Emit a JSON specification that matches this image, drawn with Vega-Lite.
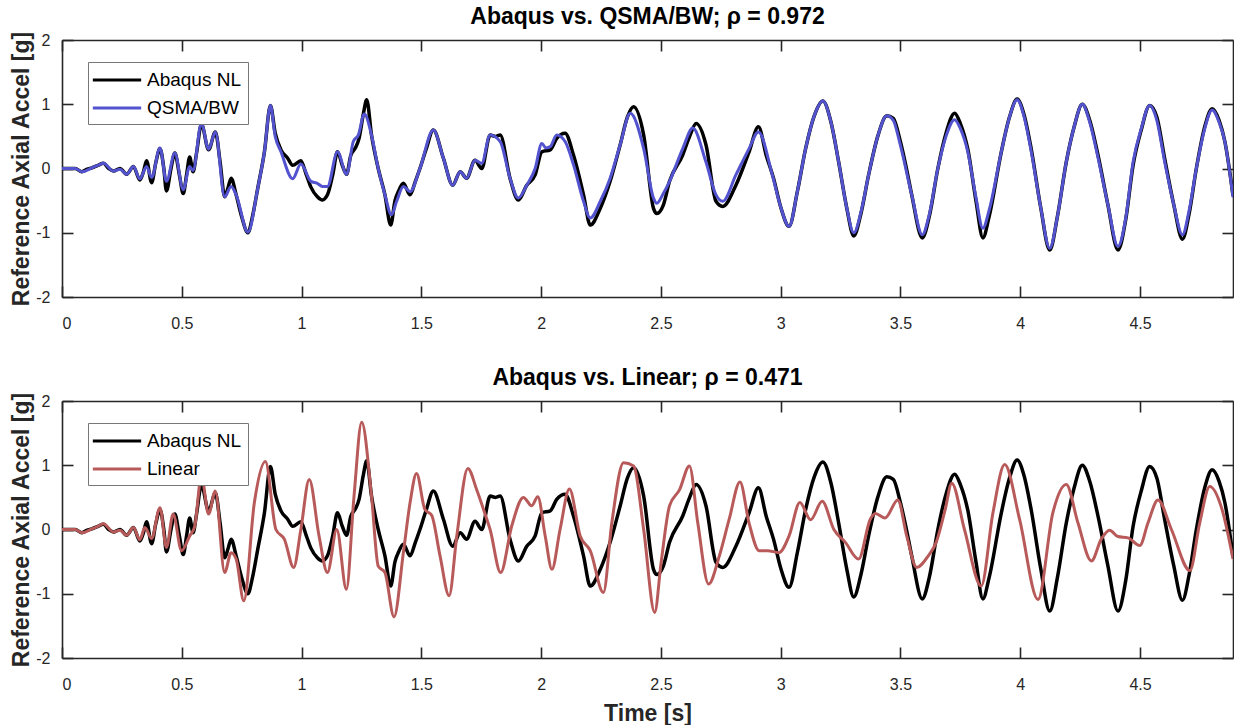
{
"$schema": "https://vega.github.io/schema/vega-lite/v6.json",
"padding": {"left": 10, "top": 6, "right": 0, "bottom": 0},
"spacing": 36,
"datasets": {
"abaqus": [{"t":0,"v":0},{"t":0.03,"v":0},{"t":0.055,"v":0},{"t":0.083,"v":-0.05},{"t":0.105,"v":-0.01},{"t":0.125,"v":0.01},{"t":0.15,"v":0.05},{"t":0.173,"v":0.08},{"t":0.195,"v":0.0},{"t":0.215,"v":-0.04},{"t":0.242,"v":0.0},{"t":0.27,"v":-0.09},{"t":0.298,"v":0.03},{"t":0.325,"v":-0.18},{"t":0.34,"v":-0.05},{"t":0.353,"v":0.12},{"t":0.374,"v":-0.22},{"t":0.392,"v":0.1},{"t":0.409,"v":0.31},{"t":0.425,"v":0.0},{"t":0.436,"v":-0.35},{"t":0.455,"v":0.0},{"t":0.471,"v":0.24},{"t":0.49,"v":-0.1},{"t":0.506,"v":-0.39},{"t":0.52,"v":-0.1},{"t":0.533,"v":0.18},{"t":0.547,"v":-0.05},{"t":0.562,"v":0.25},{"t":0.582,"v":0.69},{"t":0.612,"v":0.29},{"t":0.64,"v":0.57},{"t":0.66,"v":0.1},{"t":0.679,"v":-0.44},{"t":0.693,"v":-0.3},{"t":0.706,"v":-0.15},{"t":0.727,"v":-0.41},{"t":0.75,"v":-0.75},{"t":0.776,"v":-1.0},{"t":0.795,"v":-0.75},{"t":0.817,"v":-0.31},{"t":0.845,"v":0.26},{"t":0.87,"v":0.98},{"t":0.89,"v":0.55},{"t":0.914,"v":0.29},{"t":0.942,"v":0.16},{"t":0.963,"v":0.05},{"t":0.997,"v":0.12},{"t":1.02,"v":-0.1},{"t":1.039,"v":-0.29},{"t":1.066,"v":-0.44},{"t":1.087,"v":-0.49},{"t":1.108,"v":-0.41},{"t":1.13,"v":-0.1},{"t":1.15,"v":0.26},{"t":1.17,"v":0.05},{"t":1.188,"v":-0.09},{"t":1.205,"v":0.2},{"t":1.226,"v":0.33},{"t":1.24,"v":0.47},{"t":1.258,"v":0.85},{"t":1.272,"v":1.07},{"t":1.292,"v":0.52},{"t":1.32,"v":0.0},{"t":1.348,"v":-0.41},{"t":1.372,"v":-0.88},{"t":1.39,"v":-0.5},{"t":1.405,"v":-0.35},{"t":1.425,"v":-0.23},{"t":1.453,"v":-0.41},{"t":1.475,"v":-0.2},{"t":1.494,"v":0.0},{"t":1.52,"v":0.3},{"t":1.55,"v":0.6},{"t":1.592,"v":0.16},{"t":1.631,"v":-0.26},{"t":1.662,"v":-0.05},{"t":1.689,"v":-0.15},{"t":1.724,"v":0.13},{"t":1.752,"v":0.0},{"t":1.787,"v":0.52},{"t":1.81,"v":0.5},{"t":1.829,"v":0.52},{"t":1.87,"v":-0.15},{"t":1.905,"v":-0.49},{"t":1.94,"v":-0.26},{"t":1.975,"v":-0.1},{"t":2.003,"v":0.26},{"t":2.038,"v":0.29},{"t":2.065,"v":0.47},{"t":2.1,"v":0.55},{"t":2.135,"v":0.21},{"t":2.177,"v":-0.41},{"t":2.205,"v":-0.88},{"t":2.247,"v":-0.62},{"t":2.288,"v":-0.2},{"t":2.33,"v":0.37},{"t":2.36,"v":0.8},{"t":2.386,"v":0.96},{"t":2.428,"v":0.52},{"t":2.469,"v":-0.62},{"t":2.483,"v":-0.7},{"t":2.51,"v":-0.57},{"t":2.536,"v":-0.2},{"t":2.591,"v":0.21},{"t":2.62,"v":0.5},{"t":2.647,"v":0.7},{"t":2.688,"v":0.37},{"t":2.73,"v":-0.51},{"t":2.758,"v":-0.59},{"t":2.813,"v":-0.26},{"t":2.868,"v":0.26},{"t":2.907,"v":0.65},{"t":2.94,"v":0.2},{"t":2.97,"v":-0.15},{"t":3.0,"v":-0.6},{"t":3.035,"v":-0.9},{"t":3.07,"v":-0.35},{"t":3.104,"v":0.31},{"t":3.14,"v":0.82},{"t":3.176,"v":1.05},{"t":3.21,"v":0.72},{"t":3.242,"v":0.1},{"t":3.275,"v":-0.6},{"t":3.305,"v":-1.05},{"t":3.335,"v":-0.7},{"t":3.367,"v":-0.1},{"t":3.405,"v":0.5},{"t":3.443,"v":0.82},{"t":3.47,"v":0.78},{"t":3.499,"v":0.43},{"t":3.525,"v":0.0},{"t":3.547,"v":-0.41},{"t":3.591,"v":-1.08},{"t":3.62,"v":-0.75},{"t":3.656,"v":0.0},{"t":3.69,"v":0.55},{"t":3.726,"v":0.86},{"t":3.75,"v":0.7},{"t":3.781,"v":0.3},{"t":3.815,"v":-0.5},{"t":3.844,"v":-1.08},{"t":3.87,"v":-0.75},{"t":3.921,"v":0.26},{"t":3.955,"v":0.8},{"t":3.987,"v":1.08},{"t":4.015,"v":0.85},{"t":4.046,"v":0.3},{"t":4.085,"v":-0.6},{"t":4.123,"v":-1.27},{"t":4.155,"v":-0.75},{"t":4.192,"v":0.1},{"t":4.225,"v":0.65},{"t":4.259,"v":1.0},{"t":4.29,"v":0.75},{"t":4.325,"v":0.2},{"t":4.365,"v":-0.55},{"t":4.408,"v":-1.27},{"t":4.44,"v":-0.8},{"t":4.471,"v":0.05},{"t":4.505,"v":0.6},{"t":4.54,"v":0.98},{"t":4.57,"v":0.8},{"t":4.603,"v":0.15},{"t":4.64,"v":-0.55},{"t":4.677,"v":-1.1},{"t":4.705,"v":-0.7},{"t":4.735,"v":0.0},{"t":4.77,"v":0.65},{"t":4.801,"v":0.93},{"t":4.83,"v":0.75},{"t":4.854,"v":0.42},{"t":4.888,"v":-0.42}],
"qsma": [{"t":0,"v":0},{"t":0.03,"v":0},{"t":0.055,"v":0},{"t":0.083,"v":-0.05},{"t":0.125,"v":0.01},{"t":0.15,"v":0.05},{"t":0.173,"v":0.08},{"t":0.215,"v":-0.04},{"t":0.242,"v":-0.01},{"t":0.27,"v":-0.09},{"t":0.298,"v":0.03},{"t":0.325,"v":-0.16},{"t":0.353,"v":0.03},{"t":0.374,"v":-0.14},{"t":0.409,"v":0.32},{"t":0.436,"v":-0.2},{"t":0.471,"v":0.24},{"t":0.506,"v":-0.33},{"t":0.533,"v":0.03},{"t":0.547,"v":-0.03},{"t":0.582,"v":0.7},{"t":0.612,"v":0.3},{"t":0.64,"v":0.57},{"t":0.679,"v":-0.44},{"t":0.706,"v":-0.28},{"t":0.727,"v":-0.41},{"t":0.776,"v":-0.99},{"t":0.817,"v":-0.31},{"t":0.845,"v":0.26},{"t":0.87,"v":0.98},{"t":0.89,"v":0.5},{"t":0.914,"v":0.26},{"t":0.963,"v":-0.16},{"t":0.997,"v":0.07},{"t":1.039,"v":-0.2},{"t":1.066,"v":-0.23},{"t":1.087,"v":-0.28},{"t":1.108,"v":-0.28},{"t":1.15,"v":0.26},{"t":1.188,"v":-0.09},{"t":1.216,"v":0.42},{"t":1.237,"v":0.52},{"t":1.262,"v":0.85},{"t":1.292,"v":0.52},{"t":1.32,"v":0.0},{"t":1.348,"v":-0.41},{"t":1.375,"v":-0.72},{"t":1.397,"v":-0.51},{"t":1.425,"v":-0.28},{"t":1.453,"v":-0.36},{"t":1.494,"v":0.0},{"t":1.55,"v":0.6},{"t":1.592,"v":0.16},{"t":1.631,"v":-0.26},{"t":1.662,"v":-0.05},{"t":1.689,"v":-0.15},{"t":1.724,"v":0.13},{"t":1.752,"v":0.08},{"t":1.787,"v":0.52},{"t":1.829,"v":0.42},{"t":1.87,"v":-0.15},{"t":1.905,"v":-0.46},{"t":1.94,"v":-0.26},{"t":1.975,"v":0.0},{"t":2.003,"v":0.39},{"t":2.02,"v":0.32},{"t":2.038,"v":0.34},{"t":2.065,"v":0.52},{"t":2.1,"v":0.42},{"t":2.135,"v":0.06},{"t":2.177,"v":-0.51},{"t":2.205,"v":-0.77},{"t":2.247,"v":-0.51},{"t":2.288,"v":-0.15},{"t":2.33,"v":0.37},{"t":2.372,"v":0.86},{"t":2.428,"v":0.31},{"t":2.469,"v":-0.46},{"t":2.483,"v":-0.54},{"t":2.51,"v":-0.39},{"t":2.536,"v":-0.2},{"t":2.591,"v":0.31},{"t":2.633,"v":0.63},{"t":2.688,"v":0.1},{"t":2.73,"v":-0.41},{"t":2.758,"v":-0.51},{"t":2.813,"v":-0.1},{"t":2.868,"v":0.31},{"t":2.907,"v":0.57},{"t":2.965,"v":-0.1},{"t":3.0,"v":-0.6},{"t":3.035,"v":-0.9},{"t":3.07,"v":-0.35},{"t":3.104,"v":0.31},{"t":3.14,"v":0.82},{"t":3.176,"v":1.05},{"t":3.21,"v":0.72},{"t":3.242,"v":0.1},{"t":3.275,"v":-0.6},{"t":3.305,"v":-1.0},{"t":3.335,"v":-0.68},{"t":3.367,"v":-0.1},{"t":3.405,"v":0.5},{"t":3.443,"v":0.82},{"t":3.47,"v":0.75},{"t":3.499,"v":0.37},{"t":3.547,"v":-0.41},{"t":3.591,"v":-1.03},{"t":3.62,"v":-0.72},{"t":3.656,"v":0.0},{"t":3.69,"v":0.5},{"t":3.726,"v":0.76},{"t":3.75,"v":0.62},{"t":3.781,"v":0.26},{"t":3.815,"v":-0.45},{"t":3.844,"v":-0.93},{"t":3.87,"v":-0.65},{"t":3.921,"v":0.26},{"t":3.955,"v":0.8},{"t":3.987,"v":1.07},{"t":4.015,"v":0.82},{"t":4.046,"v":0.26},{"t":4.085,"v":-0.6},{"t":4.123,"v":-1.24},{"t":4.155,"v":-0.75},{"t":4.192,"v":0.1},{"t":4.225,"v":0.65},{"t":4.259,"v":1.0},{"t":4.29,"v":0.72},{"t":4.325,"v":0.16},{"t":4.365,"v":-0.55},{"t":4.408,"v":-1.21},{"t":4.44,"v":-0.78},{"t":4.471,"v":0.1},{"t":4.505,"v":0.62},{"t":4.54,"v":0.98},{"t":4.57,"v":0.75},{"t":4.603,"v":0.1},{"t":4.64,"v":-0.55},{"t":4.677,"v":-1.03},{"t":4.705,"v":-0.65},{"t":4.735,"v":0.0},{"t":4.77,"v":0.62},{"t":4.801,"v":0.91},{"t":4.83,"v":0.72},{"t":4.854,"v":0.42},{"t":4.888,"v":-0.45}],
"linear": [{"t":0,"v":0},{"t":0.03,"v":0},{"t":0.055,"v":0},{"t":0.083,"v":-0.05},{"t":0.125,"v":0.01},{"t":0.15,"v":0.05},{"t":0.173,"v":0.09},{"t":0.215,"v":-0.04},{"t":0.242,"v":-0.01},{"t":0.27,"v":-0.09},{"t":0.298,"v":0.03},{"t":0.325,"v":-0.16},{"t":0.346,"v":0.03},{"t":0.374,"v":-0.14},{"t":0.409,"v":0.34},{"t":0.436,"v":-0.28},{"t":0.464,"v":0.24},{"t":0.499,"v":-0.33},{"t":0.533,"v":-0.1},{"t":0.554,"v":0.05},{"t":0.582,"v":0.83},{"t":0.612,"v":0.24},{"t":0.64,"v":0.6},{"t":0.679,"v":-0.67},{"t":0.706,"v":-0.36},{"t":0.727,"v":-0.46},{"t":0.759,"v":-1.11},{"t":0.803,"v":0.42},{"t":0.849,"v":1.06},{"t":0.893,"v":0.0},{"t":0.928,"v":-0.15},{"t":0.967,"v":-0.59},{"t":0.997,"v":0.0},{"t":1.032,"v":0.78},{"t":1.073,"v":-0.1},{"t":1.108,"v":-0.67},{"t":1.147,"v":0.0},{"t":1.187,"v":-0.93},{"t":1.219,"v":0.52},{"t":1.251,"v":1.67},{"t":1.292,"v":0.52},{"t":1.32,"v":-0.57},{"t":1.348,"v":-0.67},{"t":1.386,"v":-1.36},{"t":1.425,"v":-0.36},{"t":1.453,"v":0.42},{"t":1.48,"v":0.87},{"t":1.515,"v":0.31},{"t":1.543,"v":0.22},{"t":1.578,"v":-0.41},{"t":1.616,"v":-1.03},{"t":1.648,"v":-0.1},{"t":1.694,"v":0.95},{"t":1.731,"v":0.62},{"t":1.766,"v":0.24},{"t":1.787,"v":0.0},{"t":1.831,"v":-0.67},{"t":1.877,"v":0.05},{"t":1.926,"v":0.5},{"t":1.961,"v":0.37},{"t":1.986,"v":0.51},{"t":2.017,"v":-0.1},{"t":2.045,"v":-0.62},{"t":2.079,"v":0.0},{"t":2.118,"v":0.63},{"t":2.163,"v":-0.1},{"t":2.205,"v":-0.33},{"t":2.26,"v":-0.98},{"t":2.295,"v":0.1},{"t":2.344,"v":1.04},{"t":2.386,"v":0.99},{"t":2.428,"v":0.0},{"t":2.474,"v":-1.29},{"t":2.501,"v":-0.51},{"t":2.536,"v":0.37},{"t":2.578,"v":0.62},{"t":2.619,"v":0.99},{"t":2.654,"v":0.1},{"t":2.699,"v":-0.85},{"t":2.744,"v":-0.41},{"t":2.785,"v":0.16},{"t":2.83,"v":0.74},{"t":2.868,"v":0.1},{"t":2.91,"v":-0.33},{"t":2.945,"v":-0.33},{"t":2.993,"v":-0.36},{"t":3.035,"v":-0.1},{"t":3.08,"v":0.42},{"t":3.125,"v":0.15},{"t":3.173,"v":0.44},{"t":3.222,"v":0.0},{"t":3.27,"v":-0.2},{"t":3.325,"v":-0.46},{"t":3.374,"v":0.16},{"t":3.395,"v":0.25},{"t":3.436,"v":0.18},{"t":3.489,"v":0.46},{"t":3.526,"v":-0.1},{"t":3.568,"v":-0.59},{"t":3.616,"v":-0.41},{"t":3.649,"v":-0.2},{"t":3.686,"v":0.3},{"t":3.714,"v":0.72},{"t":3.767,"v":0.0},{"t":3.837,"v":-0.88},{"t":3.886,"v":0.26},{"t":3.935,"v":1.01},{"t":3.997,"v":0.16},{"t":4.074,"v":-1.09},{"t":4.136,"v":0.26},{"t":4.192,"v":0.7},{"t":4.241,"v":0.1},{"t":4.297,"v":-0.49},{"t":4.338,"v":-0.15},{"t":4.373,"v":-0.01},{"t":4.408,"v":-0.11},{"t":4.45,"v":-0.13},{"t":4.499,"v":-0.25},{"t":4.533,"v":0.1},{"t":4.575,"v":0.46},{"t":4.631,"v":0.0},{"t":4.708,"v":-0.64},{"t":4.749,"v":0.1},{"t":4.791,"v":0.67},{"t":4.84,"v":0.34},{"t":4.888,"v":-0.46}]
},
"vconcat": [
{
"width": 1171, "height": 257,
"title": {"text": "Abaqus vs. QSMA/BW; ρ = 0.972"},
"layer": [
{"data": {"name": "abaqus"},
 "mark": {"type": "line", "strokeWidth": 3.5, "interpolate": "monotone", "clip": true},
 "encoding": {
  "x": {"field": "t", "type": "quantitative", "scale": {"domain": [0, 4.888], "nice": false, "zero": false}, "axis": {"orient": "bottom", "title": null, "ticks": false, "values": [0,0.5,1,1.5,2,2.5,3,3.5,4,4.5], "format": ".1~f", "labelPadding": 18}},
  "y": {"field": "v", "type": "quantitative", "scale": {"domain": [-2, 2], "nice": false}, "axis": {"orient": "left", "title": "Reference Axial Accel [g]", "ticks": false, "values": [-2,-1,0,1,2], "labelExpr": "datum.value < 0 ? '-' + abs(datum.value) : '' + datum.value", "labelPadding": 12, "titlePadding": 2}},
  "color": {"datum": "Abaqus NL", "type": "nominal", "scale": {"domain": ["Abaqus NL", "QSMA/BW"], "range": ["#000000", "#5353CF"]}, "legend": {"title": null, "orient": "none", "legendX": 26, "legendY": 22, "symbolType": "M-2.3,0H2.3", "symbolSize": 441, "symbolOffset": 11}}
 }},
{"data": {"name": "qsma"},
 "mark": {"type": "line", "strokeWidth": 3, "interpolate": "monotone", "clip": true},
 "encoding": {
  "x": {"field": "t", "type": "quantitative", "axis": {"orient": "bottom", "offset": -257, "title": null, "labels": false, "values": [0,0.5,1,1.5,2,2.5,3,3.5,4,4.5]}},
  "y": {"field": "v", "type": "quantitative", "axis": {"orient": "left", "offset": -1171, "title": null, "labels": false, "values": [-2,-1,0,1,2]}},
  "color": {"datum": "QSMA/BW", "type": "nominal"}
 }},
{"data": {"name": "qsma"},
 "mark": {"type": "line", "strokeOpacity": 0, "clip": true},
 "encoding": {
  "x": {"field": "t", "type": "quantitative", "axis": {"orient": "top", "offset": -257, "title": null, "labels": false, "domain": false, "values": [0,0.5,1,1.5,2,2.5,3,3.5,4,4.5]}},
  "y": {"field": "v", "type": "quantitative", "axis": {"orient": "right", "offset": -1171, "title": null, "labels": false, "domain": false, "values": [-2,-1,0,1,2]}}
 }}
],
"resolve": {"axis": {"x": "independent", "y": "independent"}}
},
{
"width": 1171, "height": 257,
"title": {"text": "Abaqus vs. Linear; ρ = 0.471"},
"layer": [
{"data": {"name": "abaqus"},
 "mark": {"type": "line", "strokeWidth": 3.5, "interpolate": "monotone", "clip": true},
 "encoding": {
  "x": {"field": "t", "type": "quantitative", "scale": {"domain": [0, 4.888], "nice": false, "zero": false}, "axis": {"orient": "bottom", "title": "Time [s]", "ticks": false, "values": [0,0.5,1,1.5,2,2.5,3,3.5,4,4.5], "format": ".1~f", "labelPadding": 18, "titlePadding": 10}},
  "y": {"field": "v", "type": "quantitative", "scale": {"domain": [-2, 2], "nice": false}, "axis": {"orient": "left", "title": "Reference Axial Accel [g]", "ticks": false, "values": [-2,-1,0,1,2], "labelExpr": "datum.value < 0 ? '-' + abs(datum.value) : '' + datum.value", "labelPadding": 12, "titlePadding": 2}},
  "color": {"datum": "Abaqus NL", "type": "nominal", "scale": {"domain": ["Abaqus NL", "Linear"], "range": ["#000000", "#B85A5A"]}, "legend": {"title": null, "orient": "none", "legendX": 26, "legendY": 22, "symbolType": "M-2.3,0H2.3", "symbolSize": 441, "symbolOffset": 11}}
 }},
{"data": {"name": "linear"},
 "mark": {"type": "line", "strokeWidth": 3, "interpolate": "monotone", "clip": true},
 "encoding": {
  "x": {"field": "t", "type": "quantitative", "axis": {"orient": "bottom", "offset": -257, "title": null, "labels": false, "values": [0,0.5,1,1.5,2,2.5,3,3.5,4,4.5]}},
  "y": {"field": "v", "type": "quantitative", "axis": {"orient": "left", "offset": -1171, "title": null, "labels": false, "values": [-2,-1,0,1,2]}},
  "color": {"datum": "Linear", "type": "nominal"}
 }},
{"data": {"name": "linear"},
 "mark": {"type": "line", "strokeOpacity": 0, "clip": true},
 "encoding": {
  "x": {"field": "t", "type": "quantitative", "axis": {"orient": "top", "offset": -257, "title": null, "labels": false, "domain": false, "values": [0,0.5,1,1.5,2,2.5,3,3.5,4,4.5]}},
  "y": {"field": "v", "type": "quantitative", "axis": {"orient": "right", "offset": -1171, "title": null, "labels": false, "domain": false, "values": [-2,-1,0,1,2]}}
 }}
],
"resolve": {"axis": {"x": "independent", "y": "independent"}}
}
],
"resolve": {"scale": {"color": "independent"}},
"config": {
 "font": "Liberation Sans",
 "view": {"stroke": null},
 "axis": {"grid": false, "domain": true, "domainColor": "#262626", "domainWidth": 1.6, "tickColor": "#262626", "tickWidth": 1.6, "tickSize": 11, "labelFont": "Liberation Sans", "labelFontSize": 16, "labelColor": "#262626", "titleFont": "Liberation Sans", "titleFontSize": 23, "titleFontWeight": "bold", "titleColor": "#262626"},
 "title": {"font": "Liberation Sans", "fontSize": 23, "fontWeight": "bold", "color": "#000000", "offset": 1, "anchor": "middle"},
 "legend": {"symbolStrokeWidth": 3, "labelFont": "Liberation Sans", "labelFontSize": 19, "labelColor": "#000000", "labelOffset": 18, "fillColor": "#ffffff", "strokeColor": "#777777", "padding": 6, "rowPadding": 6}
}
}
